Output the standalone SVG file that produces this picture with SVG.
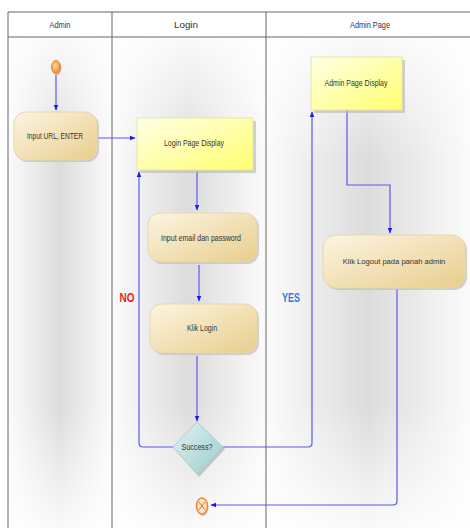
<svg xmlns="http://www.w3.org/2000/svg" width="470" height="528" viewBox="0 0 470 528">
<defs>
<style>
.hdr{font-family:"Liberation Sans",Arial,sans-serif;font-size:9.5px;fill:#333;text-anchor:middle}
.lbl{font-family:"Liberation Sans",Arial,sans-serif;font-size:9.5px;fill:#333;text-anchor:middle}
.grid{stroke:#666;stroke-width:1;fill:none}
.con{stroke:#5a5aee;stroke-width:1.2;fill:none}
.act{fill:url(#gAct);stroke:#e8d6ad;stroke-width:1}
.scr{fill:url(#gScr);stroke:#e6e6a8;stroke-width:1}
.shadow{fill:#bdbdbd;opacity:0.7}
</style>
<linearGradient id="lane" x1="0" y1="0" x2="1" y2="0">
<stop offset="0" stop-color="#fbfbfb"/>
<stop offset="0.5" stop-color="#dcdcdc"/>
<stop offset="1" stop-color="#fbfbfb"/>
</linearGradient>
<linearGradient id="fadeV" x1="0" y1="0" x2="0" y2="1">
<stop offset="0" stop-color="#fff" stop-opacity="0.85"/>
<stop offset="0.25" stop-color="#fff" stop-opacity="0"/>
<stop offset="0.75" stop-color="#fff" stop-opacity="0"/>
<stop offset="1" stop-color="#fff" stop-opacity="0.85"/>
</linearGradient>
<linearGradient id="gAct" x1="0" y1="0" x2="1" y2="1">
<stop offset="0" stop-color="#fdf5e2"/>
<stop offset="1" stop-color="#e8cd8c"/>
</linearGradient>
<linearGradient id="gScr" x1="0" y1="0" x2="1" y2="1">
<stop offset="0" stop-color="#ffffe6"/>
<stop offset="1" stop-color="#ffff70"/>
</linearGradient>
<linearGradient id="gDia" x1="0" y1="0" x2="1" y2="1">
<stop offset="0" stop-color="#e0f2f2"/>
<stop offset="1" stop-color="#9ccccc"/>
</linearGradient>
<radialGradient id="gOr" cx="0.4" cy="0.4" r="0.6">
<stop offset="0" stop-color="#ffd9a0"/>
<stop offset="1" stop-color="#f08a2a"/>
</radialGradient>
<marker id="arr" viewBox="0 0 10 10" refX="9" refY="5" markerWidth="6" markerHeight="6" orient="auto" markerUnits="userSpaceOnUse">
<path d="M0,1 L10,5 L0,9 z" fill="#1a1aee"/>
</marker>
</defs>

<rect width="470" height="528" fill="#fff"/>
<g id="lanes">
<rect x="8" y="37" width="104" height="491" fill="url(#lane)"/>
<rect x="112" y="37" width="154" height="491" fill="url(#lane)"/>
<rect x="266" y="37" width="204" height="491" fill="url(#lane)"/>
<rect x="8" y="37" width="462" height="491" fill="url(#fadeV)"/>
<path class="grid" d="M8,12 H470 M8,37 H470 M8,12 V528 M112,12 V528 M266,12 V528"/>
<text class="hdr" x="60" y="28" textLength="21" lengthAdjust="spacingAndGlyphs">Admin</text>
<text class="hdr" x="186" y="28" textLength="24" lengthAdjust="spacingAndGlyphs">Login</text>
<text class="hdr" x="370" y="28" textLength="40" lengthAdjust="spacingAndGlyphs">Admin Page</text>
</g>

<g id="connectors">
<path class="con" d="M56,74 V110" marker-end="url(#arr)"/>
<path class="con" d="M97,138 H135" marker-end="url(#arr)"/>
<path class="con" d="M197,171 V210" marker-end="url(#arr)"/>
<path class="con" d="M199,265 V301" marker-end="url(#arr)"/>
<path class="con" d="M197,356 V421" marker-end="url(#arr)"/>
<path class="con" d="M173,447 H143 Q139,447 139,443 V172" marker-end="url(#arr)"/>
<path class="con" d="M223,447 H308 Q312,447 312,443 V112" marker-end="url(#arr)"/>
<path class="con" d="M347,110 V185 H390 V233" marker-end="url(#arr)"/>
<path class="con" d="M397,289 V501 Q397,505 393,505 H211" marker-end="url(#arr)"/>
<text x="127" y="302" font-family="Liberation Sans,Arial,sans-serif" font-size="12" font-weight="bold" fill="#ee2222" text-anchor="middle" textLength="15" lengthAdjust="spacingAndGlyphs">NO</text>
<text x="291" y="302" font-family="Liberation Sans,Arial,sans-serif" font-size="12" font-weight="bold" fill="#2a7de0" text-anchor="middle" textLength="18" lengthAdjust="spacingAndGlyphs">YES</text>
</g>

<g id="start">
<ellipse cx="57" cy="69" rx="4.5" ry="6.5" fill="#c9c9c9"/>
<ellipse cx="56" cy="67" rx="4.5" ry="6.5" fill="url(#gOr)" stroke="#e8853a" stroke-width="1"/>
</g>

<g id="input-url">
<rect class="shadow" x="16" y="114" width="83" height="48" rx="12"/>
<rect class="act" x="14" y="112" width="83" height="48" rx="12"/>
<text class="lbl" x="55" y="139" textLength="56" lengthAdjust="spacingAndGlyphs">Input URL, ENTER</text>
</g>

<g id="login-page-display">
<rect class="shadow" x="140" y="121" width="116" height="52"/>
<rect class="scr" x="137" y="118" width="116" height="52"/>
<text class="lbl" x="194" y="146" textLength="60" lengthAdjust="spacingAndGlyphs">Login Page Display</text>
</g>

<g id="input-email">
<rect class="shadow" x="150" y="215" width="109" height="49" rx="12"/>
<rect class="act" x="148" y="213" width="109" height="49" rx="12"/>
<text class="lbl" x="201" y="241" textLength="80" lengthAdjust="spacingAndGlyphs">Input email dan password</text>
</g>

<g id="klik-login">
<rect class="shadow" x="152" y="306" width="107" height="49" rx="12"/>
<rect class="act" x="150" y="304" width="107" height="49" rx="12"/>
<text class="lbl" x="202" y="331" textLength="30" lengthAdjust="spacingAndGlyphs">Klik Login</text>
</g>

<g id="success">
<path d="M199,424 L225,449 L199,477 L175,449 z" fill="#c4c4c4"/>
<path d="M197,422 L223,447 L197,474 L173,447 z" fill="url(#gDia)" stroke="#a8d0d0" stroke-width="1"/>
<text class="lbl" x="197" y="450" textLength="31" lengthAdjust="spacingAndGlyphs">Success?</text>
</g>

<g id="admin-page-display">
<rect class="shadow" x="314" y="60" width="91" height="53"/>
<rect class="scr" x="311" y="57" width="91" height="53"/>
<text class="lbl" x="356" y="86" textLength="63" lengthAdjust="spacingAndGlyphs">Admin Page Display</text>
</g>

<g id="klik-logout">
<rect class="shadow" x="325" y="237" width="142" height="53" rx="13"/>
<rect class="act" x="323" y="235" width="142" height="53" rx="13"/>
<text class="lbl" x="394" y="264" style="font-size:7.6px">Klik Logout pada panah admin</text>
</g>

<g id="end">
<ellipse cx="203" cy="508" rx="5.5" ry="8" fill="#c9c9c9"/>
<ellipse cx="202" cy="506" rx="5.5" ry="8" fill="#fde6cc" stroke="#f0852e" stroke-width="1.5"/>
<path d="M199,502 L205,510 M205,502 L199,510" stroke="#e0701e" stroke-width="1"/>
</g>
</svg>
